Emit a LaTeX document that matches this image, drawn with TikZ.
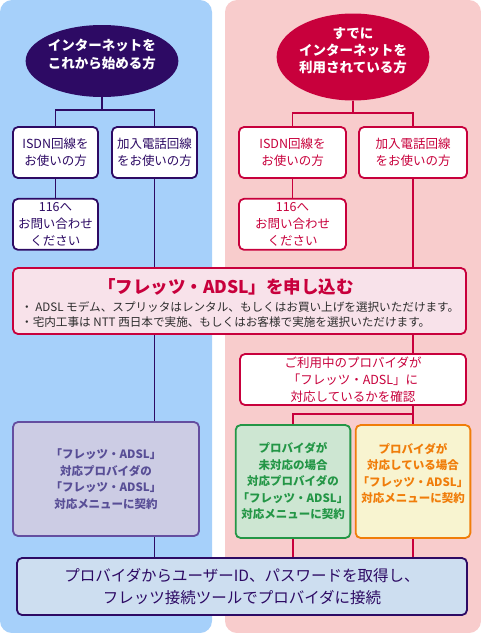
\documentclass[tikz,border=0pt]{standalone}
\usepackage{fontspec}
\setmainfont{Noto Sans CJK JP}
\usetikzlibrary{positioning,shapes.geometric,backgrounds}
\definecolor{skyblue}{RGB}{166,208,250}
\definecolor{blushpink}{RGB}{248,204,204}
\definecolor{deeppurple}{RGB}{45,10,100}
\definecolor{crimson}{RGB}{200,0,60}
\definecolor{palepink}{RGB}{248,226,234}
\definecolor{paleblue}{RGB}{205,222,240}
\definecolor{lavender}{RGB}{204,204,228}
\definecolor{mauve}{RGB}{100,78,160}
\definecolor{slatetext}{RGB}{88,78,150}
\definecolor{mintgreen}{RGB}{205,230,210}
\definecolor{leafgreen}{RGB}{35,150,70}
\definecolor{cream}{RGB}{248,244,208}
\definecolor{amber}{RGB}{240,125,10}
\definecolor{inkgray}{RGB}{45,45,45}
\tikzset{
  start/.style={ellipse, fill=deeppurple, text=white, align=center, inner sep=0pt,
                font=\fontsize{13.5}{18}\selectfont\bfseries},
  startred/.style={start, fill=crimson, font=\fontsize{13.5}{17}\selectfont\bfseries},
  box/.style={rectangle, rounded corners=5pt, draw=deeppurple, line width=1.8pt, fill=white,
              text=deeppurple, align=center, inner sep=2pt, minimum width=85pt, minimum height=51pt,
              font=\fontsize{12.5}{17}\selectfont},
  boxred/.style={box, draw=crimson, text=crimson, minimum width=107pt},
  boxpurple/.style={box, draw=mauve, fill=lavender, text=slatetext,
                    font=\fontsize{11.5}{16.7}\selectfont\bfseries},
  boxgreen/.style={boxred, draw=leafgreen, fill=mintgreen, text=leafgreen,
                   font=\fontsize{11.5}{16.5}\selectfont\bfseries},
  boxorange/.style={boxgreen, draw=amber, fill=cream, text=amber},
  boxapply/.style={box, draw=crimson, fill=palepink},
  boxfinal/.style={box, fill=paleblue, font=\fontsize{15.5}{22}\selectfont},
  link/.style={line width=1.8pt, deeppurple},
  linkred/.style={link, crimson},
}

\begin{document}
\begin{tikzpicture}[x=1pt, y=-1pt]
\useasboundingbox (0,0) rectangle (481,633);
% left side
\node[start, minimum width=129pt, minimum height=72pt] (startL) at (102,61)
  {インターネットを\\これから始める方\\[-4pt]\mbox{}};
\node[box] (isdnL) at (55.5,152.5) {ISDN回線を\\お使いの方};
\node[box] (telL) at (154.5,152.5) {加入電話回線\\をお使いの方};
\node[box, below=19pt of isdnL] (askL) {116へ\\お問い合わせ\\ください};
% right side
\node[startred, minimum width=127pt, minimum height=87pt] (startR) at (353,57)
  {すでに\\インターネットを\\利用されている方\\[-3pt]\mbox{}};
\node[boxred] (isdnR) at (292.5,152.5) {ISDN回線を\\お使いの方};
\node[boxred, minimum width=108pt] (telR) at (413,152.5) {加入電話回線\\をお使いの方};
\node[boxred, below=19pt of isdnR] (askR) {116へ\\お問い合わせ\\ください};
% apply
\node[boxapply, minimum width=453pt, minimum height=66pt] (apply) at (239.5,301) {};
\node[text=crimson, font=\fontsize{17.5}{20}\selectfont\bfseries] (applyTitle) at (226,287)
  {「フレッツ・ADSL」を申し込む};
\node[text=inkgray, align=left, anchor=west, inner sep=0pt, font=\fontsize{11.6}{15}\selectfont]
  (applyNotes) at (21,314.5)
  {・ ADSL モデム、スプリッタはレンタル、もしくはお買い上げを選択いただけます。\\
   ・宅内工事は NTT 西日本で実施、もしくはお客様で実施を選択いただけます。};
\node[boxred, minimum width=226pt] (check) at (353,379.5)
  {ご利用中のプロバイダが\\「フレッツ・ADSL」に\\対応しているかを確認};
% contracts
\node[boxpurple, minimum width=186pt, minimum height=114pt] (menuL) at (106,479)
  {「フレッツ・ADSL」\\対応プロバイダの\\「フレッツ・ADSL」\\対応メニューに契約};
\node[boxgreen, minimum width=108pt, minimum height=113pt] (menuNew) at (293,481.5)
  {プロバイダが\\未対応の場合\\対応プロバイダの\\「フレッツ・ADSL」\\対応メニューに契約};
\node[boxorange, minimum width=108pt, minimum height=113pt] (menuOk) at (413,481.5)
  {プロバイダが\\対応している場合\\「フレッツ・ADSL」\\対応メニューに契約\\[1pt]\mbox{}};
\node[boxfinal, minimum width=450pt, minimum height=57pt] (final) at (242,586.5)
  {プロバイダからユーザーID、パスワードを取得し、\\フレッツ接続ツールでプロバイダに接続};

\coordinate (forkL) at (102,110);
\coordinate (forkR) at (353,113);
\coordinate (forkC) at (413,414);

\begin{scope}[on background layer]
\fill[skyblue, rounded corners=12pt] (0,0) rectangle (212,633);
\fill[blushpink, rounded corners=12pt] (225,0) rectangle (481,633);
\draw[link] (startL) -- (forkL) -| (isdnL);
\draw[link] (forkL) -| (telL);
\draw[link] (isdnL) -- (askL);
\draw[link] (telL) -- (telL.south |- menuL.north);
\draw[link] (telL.south |- menuL.south) -- (telL.south |- final.north);
\draw[linkred] (startR) -- (forkR) -| (isdnR);
\draw[linkred] (forkR) -| (telR);
\draw[linkred] (isdnR) -- (askR);
\draw[linkred] (telR) -- (telR.south |- check.north);
\draw[linkred] (check.south -| forkC) -- (menuOk);
\draw[linkred] (forkC) -| (menuNew);
\draw[linkred] (menuNew) -- (menuNew.south |- final.north);
\draw[linkred] (menuOk) -- (menuOk.south |- final.north);
\end{scope}
\end{tikzpicture}
\end{document}
